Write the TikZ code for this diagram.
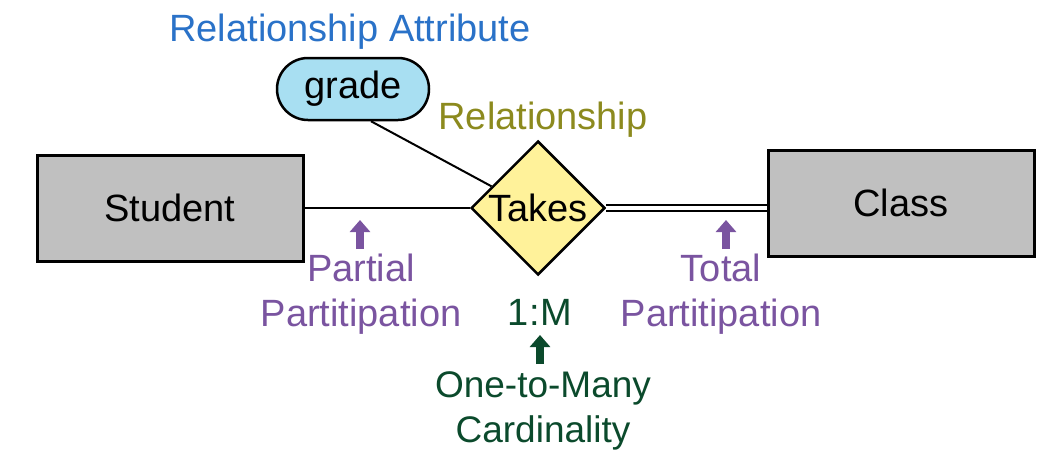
\documentclass[tikz,border=0pt]{standalone}
\usepackage{fontspec}
\setmainfont{Liberation Sans}
\usetikzlibrary{shapes.geometric,arrows.meta}
\definecolor{entgray}{HTML}{C0C0C0}
\definecolor{attblue}{HTML}{A8DFF2}
\definecolor{relyellow}{HTML}{FFF29A}
\definecolor{tblue}{HTML}{2A72C8}
\definecolor{tolive}{HTML}{8C8A1E}
\definecolor{tpurple}{HTML}{7A54A0}
\definecolor{tgreen}{HTML}{0B4A2C}
\begin{document}
\begin{tikzpicture}[x=1pt,y=-1pt,
  every node/.style={font=\fontsize{38}{45}\selectfont, inner sep=0pt},
  entity/.style={draw=black, line width=3pt, fill=entgray, minimum width=266pt, minimum height=106pt},
  attr/.style={draw=black, line width=2.5pt, fill=attblue, rounded corners=31pt, minimum width=152pt, minimum height=62pt},
  rel/.style={diamond, draw=black, line width=2.5pt, fill=relyellow, minimum width=134pt, minimum height=134pt, aspect=1},
  conn/.style={line width=2pt, draw=black},
  lab/.style={align=center},
  uparrow/.style={line width=8pt, -{Triangle[width=20pt,length=12pt]}}
]
\useasboundingbox (0,0) rectangle (1058,461);
\node[entity] (student) at (170,208) {Student};
\node[entity] (class) at (901,203) {Class};
\node[rel] (takes) at (538,208) {Takes};
\node[attr] (grade) at (353,89) {grade};
\node[text=tblue] (relattr) at (350,32) {Relationship Attribute};
\node[text=tolive] (rellab) at (543,120) {Relationship};
\draw[conn] (grade.south) ++(18,0) coordinate (gs) -- (takes.155);
\draw[conn] (student.east |- takes.west) -- (takes.west);
\draw[line width=2.5pt, double=white, double distance=3.5pt] (takes.east) -- (class.west |- takes.east);
\coordinate (pa1) at (360,249);
\coordinate (pa2) at (360,220);
\draw[uparrow, tpurple] (pa1) -- (pa2);
\coordinate (ta1) at (726,249);
\coordinate (ta2) at (726,220);
\draw[uparrow, tpurple] (ta1) -- (ta2);
\node[lab, text=tpurple] (partial) at (361,294) {Partial\\Partitipation};
\node[lab, text=tpurple] (total) at (721,294) {Total\\Partitipation};
\node[text=tgreen] (card) at (540,312) {1{\kern1pt}:{\kern1pt}M};
\coordinate (ga1) at (540,364);
\coordinate (ga2) at (540,335);
\draw[uparrow, tgreen] (ga1) -- (ga2);
\node[lab, text=tgreen, font=\fontsize{37}{45}\selectfont] (cardlab) at (543,411) {One-to-Many\\Cardinality};
\end{tikzpicture}
\end{document}
